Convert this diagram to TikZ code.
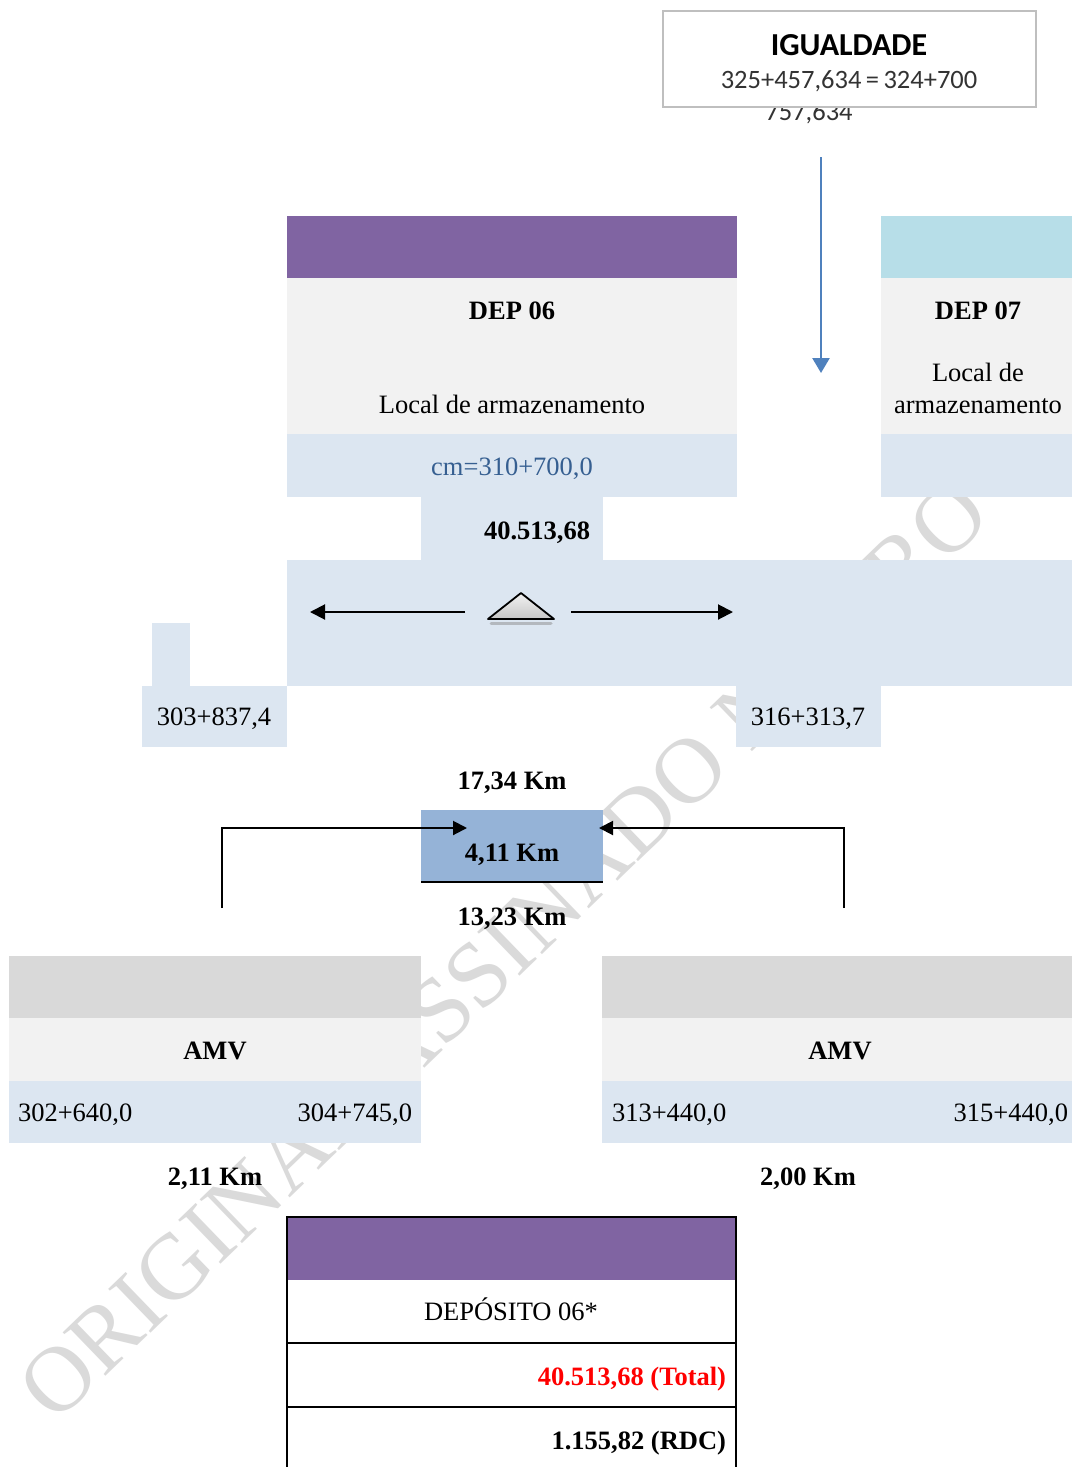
\documentclass[tikz,border=0pt]{standalone}
\usepackage{fontspec}
\setmainfont{Liberation Serif}
\newfontfamily\calfont{Carlito}
\usetikzlibrary{arrows.meta}
\definecolor{purp}{HTML}{8064A2}
\definecolor{cyanb}{HTML}{B7DEE8}
\definecolor{lgray}{HTML}{F2F2F2}
\definecolor{hgray}{HTML}{D9D9D9}
\definecolor{lblue}{HTML}{DCE6F1}
\definecolor{mblue}{HTML}{95B3D7}
\definecolor{tblue}{HTML}{365F91}
\definecolor{ablue}{HTML}{4F81BD}
\definecolor{wmark}{HTML}{DADADA}
\newcommand\myfs{\fontsize{26.5}{32}\selectfont}
\begin{document}
\begin{tikzpicture}[x=1pt,y=-1pt,
  txt/.style={font=\myfs, inner sep=0pt, outer sep=0pt, anchor=base},
  btxt/.style={txt, font=\myfs\bfseries},
  calt/.style={inner sep=0pt, outer sep=0pt, anchor=base, font=\calfont\fontsize{26.5}{32}\selectfont, text=black!80},
  blkarrow/.style={line width=2pt, -{Triangle[length=15pt,width=15pt]}},
  conarrow/.style={line width=2pt, -{Triangle[length=14pt,width=14pt]}}]
\useasboundingbox (0,0) rectangle (1072,1467);
\clip (0,0) rectangle (1072,1467);
\fill[white] (0,0) rectangle (1072,1467);

% watermark
\node[anchor=base west, inner sep=0pt, rotate=44, text=wmark, font=\fontsize{93}{93}\selectfont] (wm) at (55,1425) {ORIGINAL ASSINADO NO PRO};

% top equality note
\node[calt] (eqb) at (809,120) {757,634};
\node[draw=black!25, line width=2.5pt, fill=white, minimum width=373pt, minimum height=96pt, inner sep=0pt] (igbox) at (849.5,59) {};
\node[calt, font=\calfont\bfseries\fontsize{32}{36}\selectfont, text=black] (ig) at (849,55) {IGUALDADE};
\node[calt] (eq) at (849,88.5) {325+457,634\,=\,324+700};
\coordinate (bs) at (821,157);
\coordinate (be) at (821,373);
\draw[ablue, line width=2.5pt, -{Triangle[length=15pt,width=17pt]}] (bs) -- (be);

% DEP 06
\fill[purp] (287,216) rectangle (737,278);
\fill[lgray] (287,278) rectangle (737,434);
\fill[lblue] (287,434) rectangle (737,497);
\node[btxt] (d6) at (512,319) {DEP 06};
\node[txt] (d6l) at (512,413) {Local de armazenamento};
\node[txt, text=tblue] (cm) at (512,475) {cm=310+700,0};

% DEP 07
\fill[cyanb] (881,216) rectangle (1072,278);
\fill[lgray] (881,278) rectangle (1072,434);
\fill[lblue] (881,434) rectangle (1072,497);
\node[btxt] (d7) at (978,319) {DEP 07};
\node[txt] (d7a) at (978,381) {Local de};
\node[txt] (d7b) at (978,413) {armazenamento};

% connector block and band
\fill[lblue] (421,497) rectangle (603,560);
\node[btxt] (tot) at (537,539) {40.513,68};
\fill[lblue] (287,560) rectangle (1072,686);
\fill[lblue] (152,623) rectangle (190,686);
\fill[lblue] (142,686) rectangle (287,747);
\fill[lblue] (736,686) rectangle (881,747);
\node[txt] (pk1) at (214,725) {303+837,4};
\node[txt] (pk2) at (808,725) {316+313,7};

% triangle and arrows
\draw[black!45, line width=3pt, opacity=0.5, line cap=round] (491,623) -- (551,623);
\draw[line width=1.8pt, line join=round, top color=gray!10, bottom color=gray!45] (521,593) -- (554,619) -- (488,619) -- cycle;
\coordinate (la) at (465,612);
\coordinate (lb) at (310,612);
\coordinate (ra) at (571,612);
\coordinate (rb) at (733,612);
\draw[blkarrow] (la) -- (lb);
\draw[blkarrow] (ra) -- (rb);

% middle distances
\node[btxt] (k1) at (512,789) {17,34 Km};
\node[fill=mblue, minimum width=182pt, minimum height=72pt, inner sep=0pt, outer sep=0pt] (k4) at (512,846) {};
\draw[line width=2pt] (k4.south west) -- (k4.south east);
\node[btxt] (k4t) at (512,861) {4,11 Km};
\node[btxt] (k2) at (512,925) {13,23 Km};
\coordinate (cl) at (222,908);
\coordinate (cr) at (844,908);
\draw[conarrow] (cl) |- ([xshift=46pt,yshift=-18pt]k4.north west);
\draw[conarrow] (cr) |- ([xshift=-4pt,yshift=-18pt]k4.north east);

% AMV left
\fill[hgray] (9,956) rectangle (421,1018);
\fill[lgray] (9,1018) rectangle (421,1081);
\fill[lblue] (9,1081) rectangle (421,1143);
\node[btxt] (amv1) at (215,1059) {AMV};
\node[txt, anchor=base west] (a1l) at (18,1121) {302+640,0};
\node[txt, anchor=base east] (a1r) at (412,1121) {304+745,0};
\node[btxt] (km5) at (215,1185) {2,11 Km};

% AMV right
\fill[hgray] (602,956) rectangle (1072,1018);
\fill[lgray] (602,1018) rectangle (1072,1081);
\fill[lblue] (602,1081) rectangle (1072,1143);
\node[btxt] (amv2) at (840,1059) {AMV};
\node[txt, anchor=base west] (a2l) at (612,1121) {313+440,0};
\node[txt, anchor=base east] (a2r) at (1068,1121) {315+440,0};
\node[btxt] (km6) at (808,1185) {2,00 Km};

% table
\fill[purp] (287,1217) rectangle (736,1280);
\draw[line width=2pt] (287,1475) -- (287,1217) -- (736,1217) -- (736,1475);
\draw[line width=2pt] (287,1343) -- (736,1343);
\draw[line width=2pt] (287,1407) -- (736,1407);
\node[txt] (dp) at (511,1320) {DEPÓSITO 06*};
\node[btxt, anchor=base east, text=red] (tt) at (726,1385) {40.513,68 (Total)};
\node[btxt, anchor=base east] (rdc) at (726,1449) {1.155,82 (RDC)};
\end{tikzpicture}
\end{document}
